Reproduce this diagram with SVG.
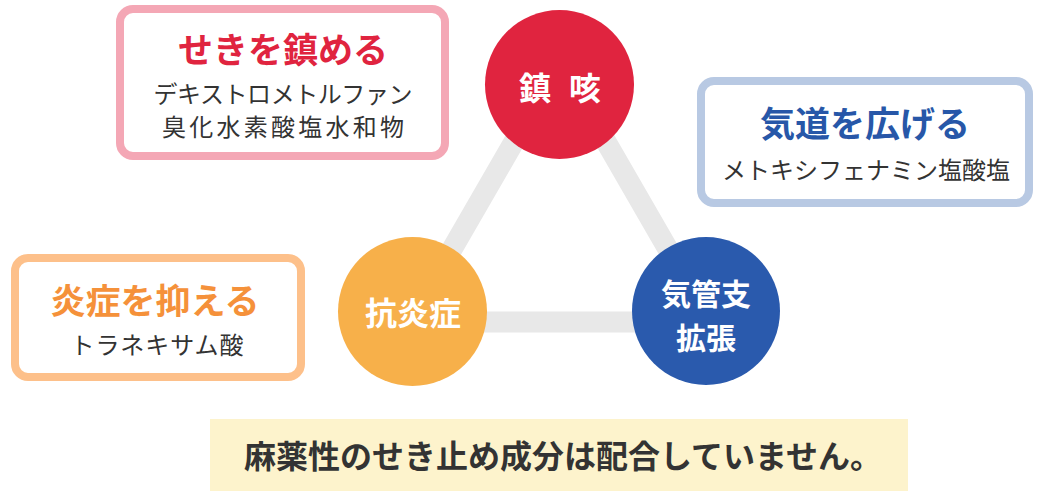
<svg xmlns="http://www.w3.org/2000/svg" width="1040" height="499" viewBox="0 0 1040 499">
<style>
text{font-family:"Noto Sans CJK JP","Noto Sans CJK SC",sans-serif;text-anchor:middle}
.box{fill:#fff;stroke-width:8}
.ttl{font-size:35px;font-weight:bold}
.sub{font-size:24px;fill:#333}
.circ{fill:#fff;font-size:32px;font-weight:bold}
.circ2{fill:#fff;font-size:30px;font-weight:bold}
</style>
<rect width="1040" height="499" fill="#fff"/>
<g id="connectors">
<path d="M560 62 L710 322 L410 322 Z" fill="none" stroke="#e8e8e8" stroke-width="21" stroke-linejoin="miter"/>
</g>
<g id="node-chinkai">
<circle cx="559.5" cy="84.5" r="74.5" fill="#e0243f"/>
<text class="circ" x="535" y="100">鎮</text>
<text class="circ" x="585" y="100">咳</text>
</g>
<g id="node-koensho">
<circle cx="412.5" cy="311.5" r="74.5" fill="#f7b04a"/>
<text class="circ" x="413" y="325">抗炎症</text>
</g>
<g id="node-kikanshi">
<circle cx="706" cy="311" r="74" fill="#2a5aad"/>
<text class="circ2" x="706" y="305">気管支</text>
<text class="circ2" x="706" y="349">拡張</text>
</g>
<g id="box-seki">
<rect class="box" x="120" y="9" width="325" height="147" rx="13" stroke="#f4a7b5"/>
<text class="ttl" x="283" y="63" fill="#e0243f">せきを鎮める</text>
<text class="sub" x="283" y="103" textLength="259" lengthAdjust="spacing">デキストロメトルファン</text>
<text class="sub" x="283" y="136" textLength="242" lengthAdjust="spacing">臭化水素酸塩水和物</text>
</g>
<g id="box-kido">
<rect class="box" x="701" y="81" width="328" height="122" rx="13" stroke="#b8c9e3"/>
<text class="ttl" x="865" y="137" fill="#2757a8">気道を広げる</text>
<text class="sub" x="866" y="179" textLength="288" lengthAdjust="spacing">メトキシフェナミン塩酸塩</text>
</g>
<g id="box-ensho">
<rect class="box" x="15" y="258" width="286" height="119" rx="13" stroke="#fdc08a"/>
<text class="ttl" x="155" y="314" fill="#f5913a">炎症を抑える</text>
<text class="sub" x="157" y="354" textLength="173" lengthAdjust="spacing">トラネキサム酸</text>
</g>
<g id="banner">
<rect x="210" y="419" width="698" height="72" fill="#fdf3cc"/>
<text x="244" y="468" style="text-anchor:start;font-size:32px;font-weight:bold;fill:#333">麻薬性のせき止め成分は配合していません。</text>
</g>
</svg>
